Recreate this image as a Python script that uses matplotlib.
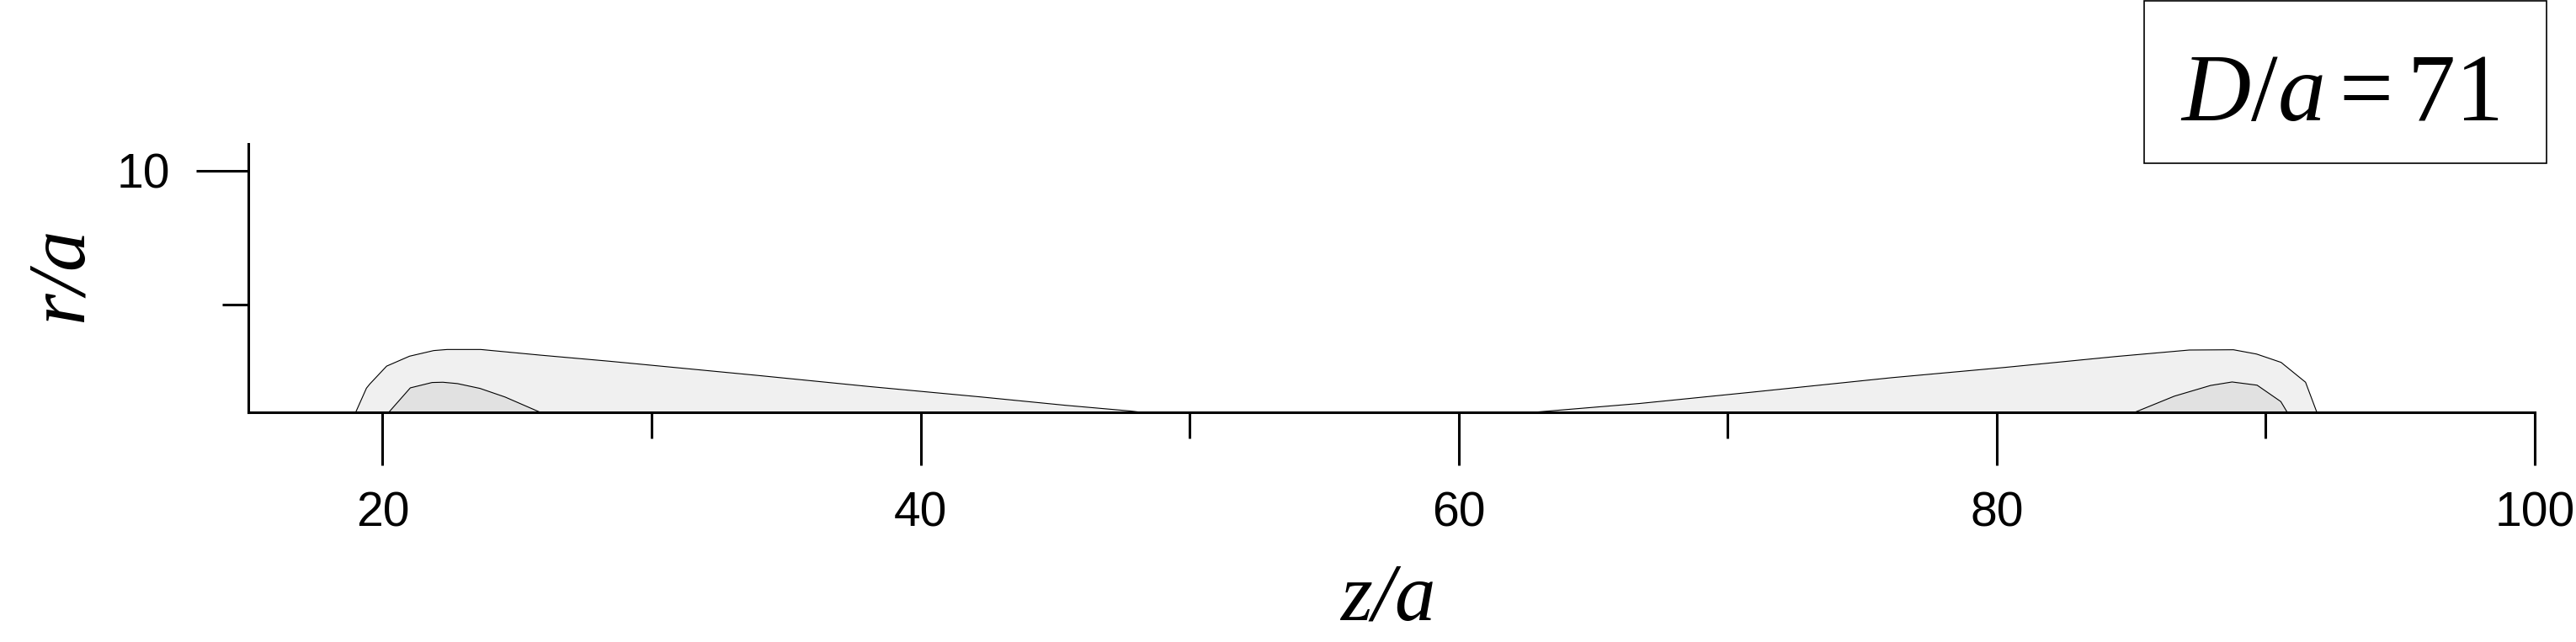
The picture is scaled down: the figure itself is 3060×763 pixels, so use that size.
import matplotlib
matplotlib.use("Agg")
import matplotlib.pyplot as plt
from matplotlib.patches import Rectangle

plt.rcParams['font.family'] = ['Liberation Sans', 'DejaVu Sans']
plt.rcParams['mathtext.fontset'] = 'custom'
plt.rcParams['mathtext.rm'] = 'Liberation Serif'
plt.rcParams['mathtext.it'] = 'Liberation Serif:italic'

# contour outlines (z/a, r/a)
outer_left_z = [19.0, 19.4, 19.53, 20.15, 21.0, 21.9, 22.4, 23.65, 25.86, 28.46, 33.93, 38.09, 42.26, 45.39, 47.78, 48.2]
outer_left_r = [1.0, 1.9, 2.06, 2.72, 3.09, 3.30, 3.34, 3.34, 3.13, 2.90, 2.375, 1.96, 1.57, 1.26, 1.05, 1.0]
inner_left_z = [20.23, 21.03, 21.84, 22.24, 22.78, 23.62, 24.55, 25.86]
inner_left_r = [1.0, 1.91, 2.11, 2.12, 2.07, 1.89, 1.57, 1.0]

outer_right_z = [62.78, 66.74, 70.9, 76.1, 80.28, 84.45, 87.16, 88.8, 89.66, 90.57, 91.48, 91.9]
outer_right_r = [1.0, 1.33, 1.75, 2.29, 2.67, 3.08, 3.32, 3.33, 3.17, 2.86, 2.12, 1.0]
inner_right_z = [85.13, 86.6, 87.95, 88.75, 89.68, 90.56, 90.8]
inner_right_r = [1.0, 1.6, 2.0, 2.13, 2.01, 1.40, 1.0]

xmajor = [20, 40, 60, 80, 100]
xminor = [30, 50, 70, 90]
ymajor = [10]
yminor = [5]

fig = plt.figure(figsize=(30.6, 7.63), dpi=100)
ax = fig.add_axes([294.7 / 3060, 1 - 490 / 763, 2716.3 / 3060, 319 / 763])

light = '#f0f0f0'
dark = '#e1e1e1'
for z, r, c in [(outer_left_z, outer_left_r, light), (outer_right_z, outer_right_r, light),
                (inner_left_z, inner_left_r, dark), (inner_right_z, inner_right_r, dark)]:
    ax.fill(z, r, facecolor=c, edgecolor='none', zorder=1)
    ax.plot(z, r, color='black', lw=0.8, zorder=2)

ax.set_xlim(15, 100)
ax.set_ylim(1, 11)
for s in ['top', 'right']:
    ax.spines[s].set_visible(False)
for s in ['left', 'bottom']:
    ax.spines[s].set_linewidth(2.2)

ax.set_xticks(xmajor)
ax.set_xticks(xminor, minor=True)
ax.set_yticks(ymajor)
ax.set_yticks(yminor, minor=True)
ax.tick_params(which='major', length=45, width=2.2, labelsize=41)
ax.tick_params(which='minor', length=22.5, width=2.2)
ax.tick_params(axis='x', which='major', pad=22)
ax.tick_params(axis='y', which='major', pad=22)

serif = ['Liberation Serif', 'DejaVu Serif']
fig.text(1649 / 3060, 1 - 737 / 763, 'z/a', family=serif, style='italic', fontsize=70,
         ha='center', va='baseline')
fig.text(97 / 3060, 1 - 326 / 763, 'r/a', family=serif, style='italic', fontsize=70,
         ha='center', va='baseline', rotation=90, rotation_mode='anchor')

fig.add_artist(Rectangle((2547 / 3060, 1 - 194 / 763), 478 / 3060, 193 / 763,
                         transform=fig.transFigure, fill=False, ec='black', lw=1.2))
fig.text(2779 / 3060, 1 - 143 / 763, r'$D/a = 71$', fontsize=82, ha='center', va='baseline')

fig.savefig('out.png', dpi=100)
